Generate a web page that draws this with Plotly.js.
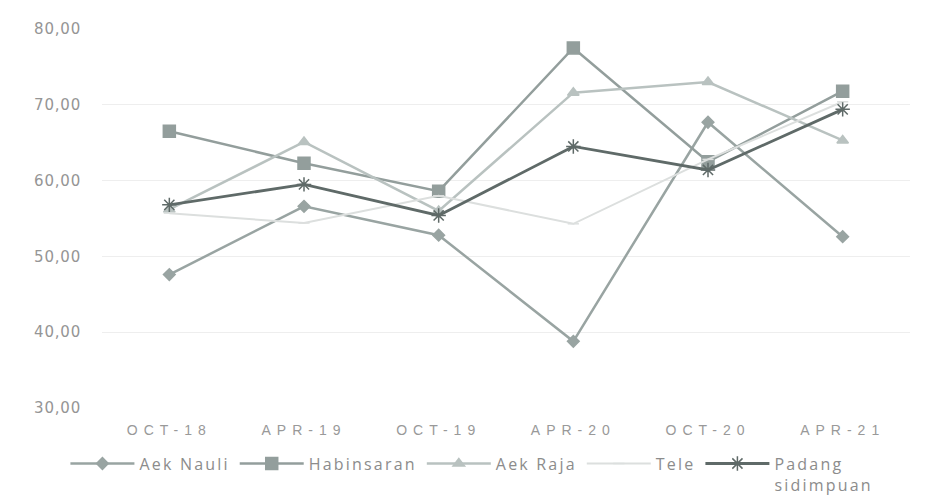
<!DOCTYPE html>
<html>
<head>
<meta charset="utf-8">
<script src="https://cdn.plot.ly/plotly-3.0.1.min.js"></script>
<style>
  html, body { margin: 0; padding: 0; background: #ffffff; }
  #chart { width: 928px; height: 499px; }
  .xtick text { letter-spacing: 6px; }
  .ytick text { letter-spacing: 0.8px; }
  .legendtext { letter-spacing: 2.2px; }
</style>
</head>
<body>
<div id="chart"></div>
<script>
// Periods on the category axis
const periods = ['OCT-18', 'APR-19', 'OCT-19', 'APR-20', 'OCT-20', 'APR-21'];

// Values per location
const aekNauli   = [47.6, 56.6, 52.8, 38.8, 67.7, 52.6];
const habinsaran = [66.5, 62.3, 58.6, 77.5, 62.5, 71.8];
const aekRaja    = [56.2, 65.1, 56.0, 71.6, 73.0, 65.3];
const tele       = [55.7, 54.4, 58.0, 54.3, 62.8, 70.4];
const padang     = [56.8, 59.5, 55.4, 64.5, 61.4, 69.4];

const yTicks = [30, 40, 50, 60, 70, 80];

function series(name, values, color, width, symbol, size) {
  return {
    type: 'scatter',
    mode: 'lines+markers',
    name: name,
    x: periods,
    y: values,
    line: { color: color, width: width },
    marker: {
      symbol: symbol,
      size: size,
      color: color,
      line: { color: color, width: 1.5 }
    }
  };
}

const traces = [
  series('Aek Nauli', aekNauli, '#99a4a2', 2.5, 'diamond', 9),
  series('Habinsaran', habinsaran, '#939e9c', 2.5, 'square', 12),
  series('Aek Raja', aekRaja, '#b9c2c0', 2.5, 'triangle-up', 10),
  series('Tele', tele, '#dcdfde', 2, 'line-ew-open', 8),
  series('Padang<br>sidimpuan', padang, '#5f6a68', 2.8, 'asterisk-open', 12)
];

const layout = {
  width: 928,
  height: 499,
  paper_bgcolor: '#ffffff',
  plot_bgcolor: '#ffffff',
  separators: ',.',
  margin: { l: 102, r: 18, t: 29, b: 91 },
  font: { family: '"Open Sans", sans-serif', color: '#8c8c8c', size: 14 },
  xaxis: {
    type: 'category',
    range: [-0.5, 5.5],
    showline: false,
    showgrid: false,
    zeroline: false,
    ticks: '',
    tickfont: { size: 14, color: '#999999', family: '"Liberation Sans", sans-serif' },
    ticklabelstandoff: 12
  },
  yaxis: {
    range: [30, 80],
    tickvals: yTicks,
    tickformat: '.2f',
    showgrid: true,
    gridcolor: '#eeeeee',
    gridwidth: 1,
    zeroline: false,
    showline: false,
    ticks: '',
    ticklabelstandoff: 20,
    tickfont: { size: 15, color: '#959595', family: '"DejaVu Sans", sans-serif' }
  },
  legend: {
    orientation: 'h',
    xref: 'container',
    yref: 'container',
    x: 0.0705,
    xanchor: 'left',
    y: 0.105,
    yanchor: 'top',
    font: { size: 16, color: '#8c8c8c', family: '"Open Sans", sans-serif' },
    itemwidth: 64,
    valign: 'top',
    traceorder: 'normal'
  },
  showlegend: true
};

Plotly.newPlot('chart', traces, layout, { displayModeBar: false, staticPlot: true });
</script>
</body>
</html>
